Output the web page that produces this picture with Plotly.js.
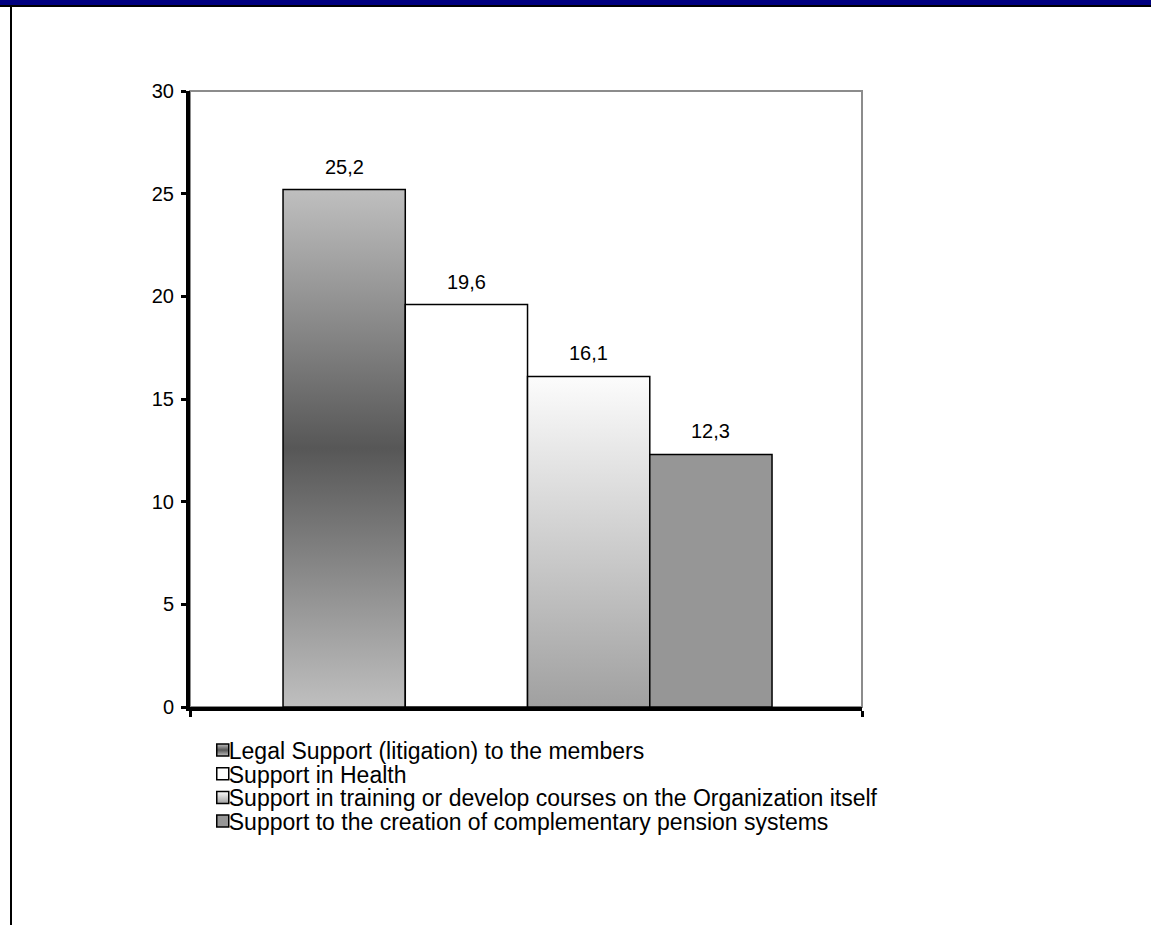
<!DOCTYPE html>
<html>
<head>
<meta charset="utf-8">
<script src="https://cdn.plot.ly/plotly-3.0.1.min.js"></script>
<style>
  html, body { margin: 0; padding: 0; background: #ffffff; }
  body { width: 1151px; height: 925px; position: relative; overflow: hidden; }
  #band { position: absolute; left: 0; top: 0; width: 1151px; height: 5px; background: #000080; border-bottom: 2px solid #000000; }
  #edge { position: absolute; left: 10px; top: 7px; width: 2px; height: 918px; background: #000000; }
  #chart { position: absolute; left: 0; top: 0; width: 1151px; height: 925px; }
</style>
</head>
<body>
<div id="chart"></div>
<div id="band"></div>
<div id="edge"></div>
<script>
// Services offered, share of answers (%)
const services = [
  'Legal Support (litigation) to the members',
  'Support in Health',
  'Support in training or develop courses on the Organization itself',
  'Support to the creation of complementary pension systems'
];
const shares = [25.2, 19.6, 16.1, 12.3];
const positions = [0, 1, 2, 3];

// Base fills; gradients are laid over some of them once the plot is drawn
const baseColors = ['#8a8a8a', '#ffffff', '#d0d0d0', '#969696'];
const gradients = [
  [[0, '#bfbfbf'], [0.5, '#575757'], [1, '#bfbfbf']],
  null,
  [[0, '#fcfcfc'], [1, '#a0a0a0']],
  null
];

const FONT = 'Liberation Sans, Arial, sans-serif';
const xRange = [-1.261, 4.236];

// Legend layout: compact rows with the swatch right against the label
const LEGEND_ROW = 23.7;
const LEGEND_FIRST_ROW = 750;
const LEGEND_TEXT_X = 26;

const data = services.map((name, i) => ({
  type: 'bar',
  name: name,
  x: [positions[i]],
  y: [shares[i]],
  width: 1,
  marker: { color: baseColors[i], line: { color: '#000000', width: 1.5 } },
  hoverinfo: 'skip'
}));

const annotations = services.map((name, i) => ({
  x: positions[i],
  y: shares[i],
  xref: 'x', yref: 'y',
  text: shares[i].toFixed(1).replace('.', ','),
  showarrow: false,
  yshift: 23,
  font: { family: FONT, size: 20, color: '#000000' }
}));

const layout = {
  width: 1151,
  height: 925,
  margin: { l: 190, r: 289, t: 91, b: 218, pad: 0 },
  paper_bgcolor: '#ffffff',
  plot_bgcolor: '#ffffff',
  barmode: 'overlay',
  showlegend: true,
  font: { family: FONT, color: '#000000' },
  xaxis: {
    type: 'linear',
    range: xRange,
    tickmode: 'array',
    tickvals: xRange,
    showticklabels: false,
    ticks: 'outside',
    ticklen: 6,
    tickwidth: 3,
    tickcolor: '#000000',
    showline: true,
    linewidth: 4,
    linecolor: '#000000',
    showgrid: false,
    zeroline: false,
    fixedrange: true
  },
  yaxis: {
    range: [0, 30],
    tickmode: 'linear',
    tick0: 0,
    dtick: 5,
    ticks: 'outside',
    ticklen: 5,
    tickwidth: 3,
    tickcolor: '#000000',
    ticklabelstandoff: 3,
    tickfont: { family: FONT, size: 20, color: '#000000' },
    showline: true,
    linewidth: 4,
    linecolor: '#000000',
    showgrid: false,
    zeroline: false,
    fixedrange: true
  },
  shapes: [{
    type: 'rect', xref: 'paper', yref: 'paper',
    x0: 0, x1: 1, y0: 0, y1: 1,
    line: { color: '#8c8c8c', width: 2 },
    layer: 'below'
  }],
  annotations: annotations,
  legend: {
    x: 0.019, y: -0.05,
    xanchor: 'left', yanchor: 'top',
    orientation: 'v',
    traceorder: 'normal',
    bgcolor: 'rgba(0,0,0,0)',
    borderwidth: 0,
    itemwidth: 30,
    font: { family: FONT, size: 23, color: '#000000' }
  }
};

const gd = document.getElementById('chart');

function addGradient(defs, id, stops) {
  const NS = 'http://www.w3.org/2000/svg';
  const g = document.createElementNS(NS, 'linearGradient');
  g.setAttribute('id', id);
  g.setAttribute('x1', '0'); g.setAttribute('y1', '0');
  g.setAttribute('x2', '0'); g.setAttribute('y2', '1');
  stops.forEach(([off, col]) => {
    const s = document.createElementNS(NS, 'stop');
    s.setAttribute('offset', off);
    s.setAttribute('stop-color', col);
    g.appendChild(s);
  });
  defs.appendChild(g);
}

function applyGradients() {
  const svg = gd.querySelector('svg.main-svg');
  let defs = svg.querySelector('defs');
  if (!defs) {
    defs = document.createElementNS('http://www.w3.org/2000/svg', 'defs');
    svg.insertBefore(defs, svg.firstChild);
  }
  gradients.forEach((stops, i) => {
    if (stops) addGradient(defs, 'svcfill' + i, stops);
  });
  gd.querySelectorAll('.barlayer .trace').forEach((tr, i) => {
    if (gradients[i]) tr.querySelectorAll('path').forEach(p => { p.style.fill = 'url(#svcfill' + i + ')'; });
  });
  gd.querySelectorAll('.legend .traces').forEach((tr, i) => {
    if (gradients[i]) tr.querySelectorAll('.legendpoints path').forEach(p => { p.style.fill = 'url(#svcfill' + i + ')'; });
  });
}

function tightenLegend() {
  const items = Array.from(gd.querySelectorAll('.legend .traces'));
  if (!items.length) return;
  // absolute y of the first row's centre as drawn now
  const first = items[0].querySelector('.legendpoints').getBoundingClientRect();
  const firstCentre = first.top + first.height / 2;
  const parse = t => {
    const m = /translate\(\s*([-\d.]+)[ ,]+([-\d.]+)\s*\)/.exec(t || '');
    return m ? [parseFloat(m[1]), parseFloat(m[2])] : [0, 0];
  };
  const [x0, y0] = parse(items[0].getAttribute('transform'));
  const base = y0 + (LEGEND_FIRST_ROW - firstCentre);
  items.forEach((tr, i) => {
    const [x] = parse(tr.getAttribute('transform'));
    tr.setAttribute('transform', 'translate(' + x + ',' + (base + i * LEGEND_ROW) + ')');
    const txt = tr.querySelector('text.legendtext');
    if (txt) txt.setAttribute('x', LEGEND_TEXT_X);
  });
}

Plotly.newPlot(gd, data, layout, { staticPlot: true, displayModeBar: false })
  .then(applyGradients)
  .then(tightenLegend);
</script>
</body>
</html>
